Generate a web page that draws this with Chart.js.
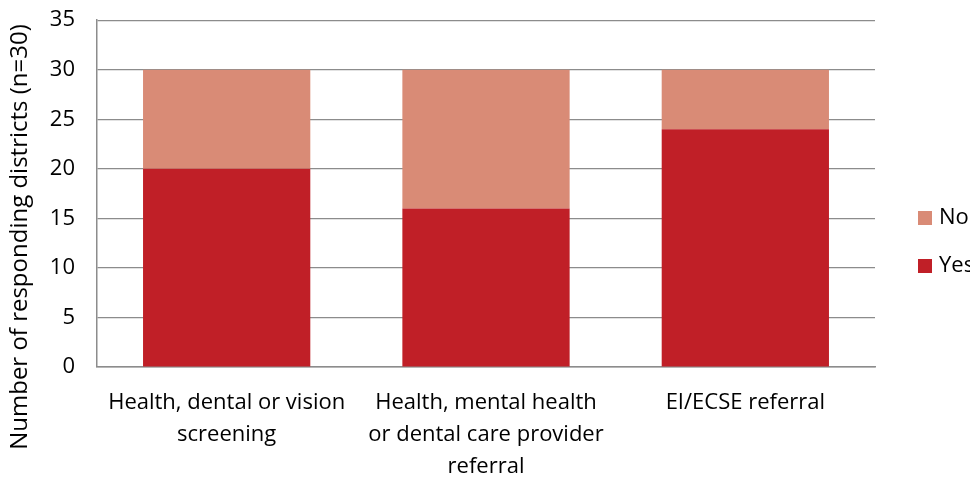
<!DOCTYPE html>
<html>
<head>
<meta charset="utf-8">
<script src="https://cdn.jsdelivr.net/npm/chart.js@4"></script>
<style>
  html, body { margin: 0; padding: 0; background: #fff; }
  #wrap { width: 970px; height: 479px; }
</style>
</head>
<body>
<div id="wrap"><canvas id="chart" width="970" height="479"></canvas></div>
<script>
const categories = [
  ["Health, dental or vision", "screening"],
  ["Health, mental health", "or dental care provider", "referral"],
  ["EI/ECSE referral"]
];
const yesValues = [20, 16, 24];
const noValues = [10, 14, 6];
const yTicks = [0, 5, 10, 15, 20, 25, 30, 35];
const yTitle = "Number of responding districts (n=30)";

const FONT = "'Open Sans', sans-serif";

// legend drawn on the right, partly cut off like the original,
// plus the y title centred on the whole canvas height
const sideLegend = {
  id: 'sideLegend',
  afterDraw(chart) {
    const ctx = chart.ctx;
    const items = [chart.data.datasets[1], chart.data.datasets[0]];
    const ys = [218, 266];
    ctx.save();
    ctx.font = "22px " + FONT;
    ctx.textBaseline = 'middle';
    items.forEach((ds, i) => {
      ctx.fillStyle = ds.backgroundColor;
      ctx.fillRect(918, ys[i] - 7, 14, 14);
      ctx.fillStyle = '#000';
      ctx.fillText(ds.label, 939, ys[i]);
    });
    ctx.translate(20, 237);
    ctx.rotate(-Math.PI / 2);
    ctx.font = "24px " + FONT;
    ctx.textAlign = 'center';
    ctx.fillText(yTitle, 0, 0);
    ctx.restore();
  }
};

const CHART = document.getElementById("chart");
let barChart = new Chart(CHART, {
  type: 'bar',
  data: {
    labels: categories,
    datasets: [
      {
        label: "Yes",
        data: yesValues,
        backgroundColor: "#C01F27",
        barPercentage: 0.645,
        categoryPercentage: 1.0
      },
      {
        label: "No",
        data: noValues,
        backgroundColor: "#D98B76",
        barPercentage: 0.645,
        categoryPercentage: 1.0
      }
    ]
  },
  options: {
    responsive: false,
    animation: false,
    layout: { padding: { left: 0, right: 95, top: 0, bottom: 0 } },
    plugins: {
      legend: { display: false },
      tooltip: { enabled: false }
    },
    scales: {
      x: {
        stacked: true,
        grid: { display: false },
        border: { color: '#8c8c8c', width: 1.5 },
        afterFit(axis) { axis.height = 112; },
        ticks: {
          color: '#000',
          font: { family: FONT, size: 22, lineHeight: 1.45 },
          maxRotation: 0,
          autoSkip: false,
          padding: 12
        }
      },
      y: {
        stacked: true,
        min: 0,
        max: 35,
        afterBuildTicks(axis) { axis.ticks = yTicks.map(v => ({ value: v })); },
        afterFit(axis) { axis.width = 97; },
        grid: {
          color: '#8c8c8c',
          lineWidth: 1.2,
          drawTicks: true,
          tickLength: 15,
          tickColor: 'rgba(0,0,0,0)'
        },
        border: { color: '#8c8c8c', width: 1.5 },
        ticks: {
          color: '#000',
          font: { family: FONT, size: 22 },
          padding: 7
        },
        title: { display: false }
      }
    }
  },
  plugins: [sideLegend]
});
</script>
</body>
</html>
